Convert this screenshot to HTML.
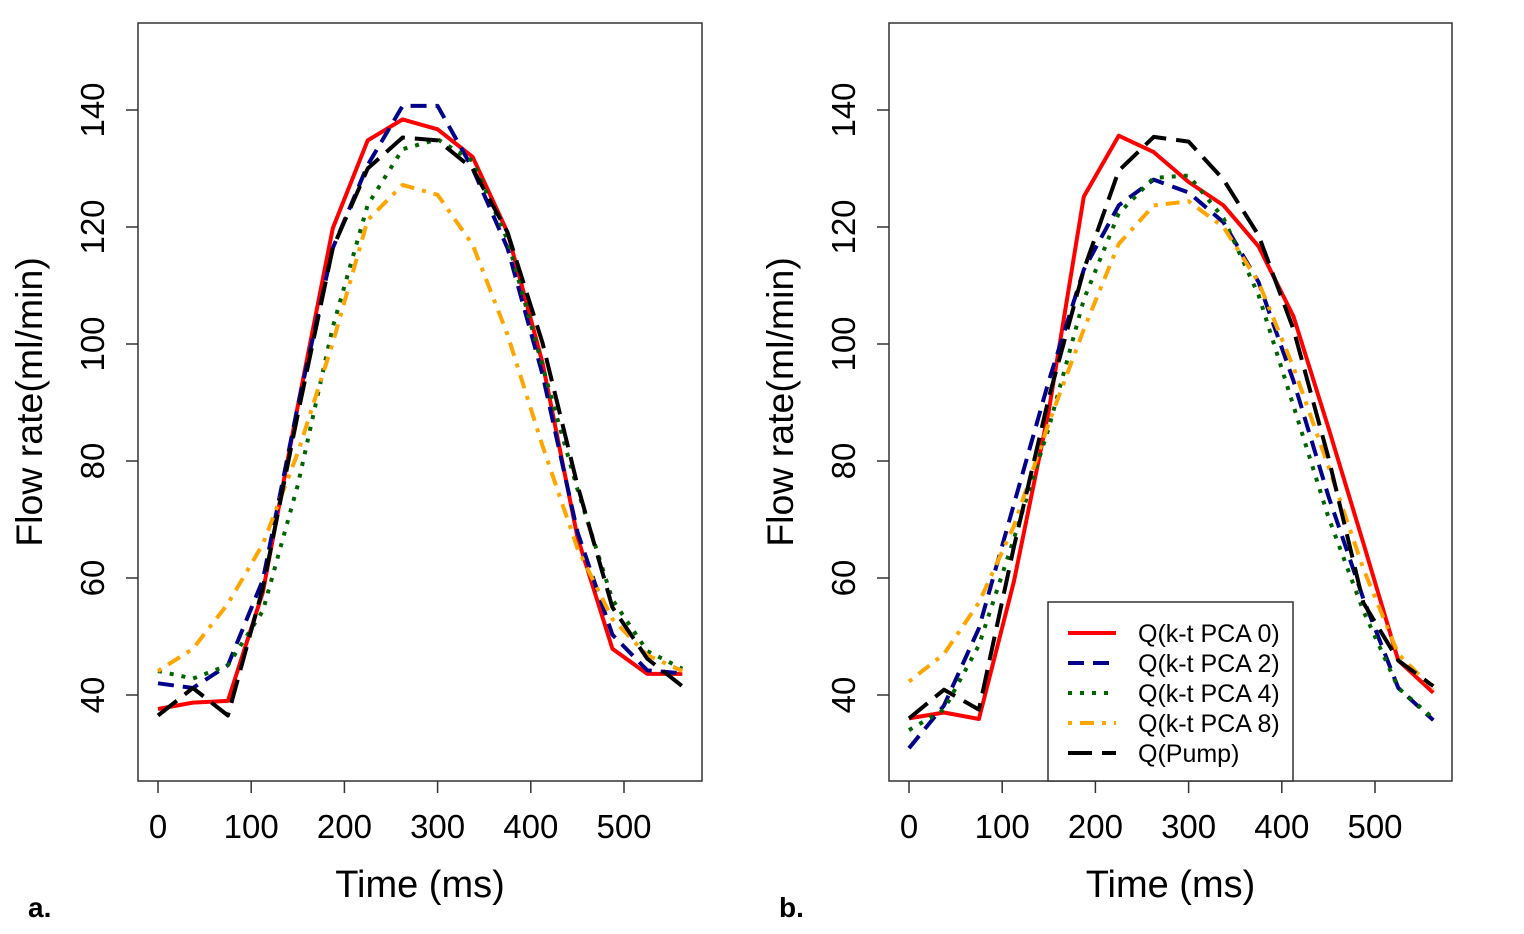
<!DOCTYPE html>
<html><head><meta charset="utf-8">
<style>
html,body{margin:0;padding:0;background:#fff;}
svg{display:block;font-family:"Liberation Sans",sans-serif;}
</style></head>
<body>
<svg id="chart" width="1524" height="934" viewBox="0 0 1524 934" xmlns="http://www.w3.org/2000/svg"></svg>
<script>
const times = [0,37.5,75,112.5,150,187.5,225,262.5,300,337.5,375,412.5,450,487.5,525,562.5];
const xTicks = [0,100,200,300,400,500];
const yTicks = [40,60,80,100,120,140];
const seriesNames = ["Q(k-t PCA 0)","Q(k-t PCA 2)","Q(k-t PCA 4)","Q(k-t PCA 8)","Q(Pump)"];
const aPca0 = [37.6,38.7,39,57.6,89.4,119.8,134.8,138.4,136.7,132,119.1,96.8,67,47.9,43.6,43.6];
const aPca2 = [42,41.2,45.1,59.7,89.4,116.4,130.6,140.7,140.7,130,116.4,94.8,67.9,50.3,44.2,43.7];
const aPca4 = [44.1,42.8,45.1,54.4,75.9,102.9,123.8,133.3,135,131.3,117.8,96.2,75.2,56.3,47.5,44.5];
const aPca8 = [44.1,47.9,55.6,65.8,81.4,100.2,121.2,127.2,125.5,117,101.6,82.6,65.1,53,46.8,44.1];
const aPump = [36.5,41.2,36.5,58.3,88,116.4,130,135.3,134.8,130,119.1,100.2,75.9,55,46.2,41.5];
const bPca0 = [36,37,35.9,59.4,88.6,125.2,135.6,132.8,127.7,123.7,116.7,104.7,85.7,66,45.9,40.4];
const bPca2 = [30.9,38.2,51.4,72.6,93.7,112.7,123.7,128.1,125.9,120.8,110.6,93.7,74,56.5,41.2,35.7];
const bPca4 = [34,37.5,48.5,66.7,85.7,107.6,122.3,128.4,128.8,121.5,108.4,89.4,70.4,54.4,41.2,36];
const bPca8 = [42.3,47,55.8,68.9,86.5,102.5,117.1,123.7,124.4,120,110.6,96,79.1,61.6,47,41];
const bPump = [36,40.9,37.5,65.3,90.8,112.7,129.6,135.4,134.6,128.1,118.6,102.5,80.6,55.8,45.9,41.5];

const NS="http://www.w3.org/2000/svg";
const svg=document.getElementById('chart');
function mk(tag,attrs,parent){const e=document.createElementNS(NS,tag);for(const k in attrs)e.setAttribute(k,attrs[k]);(parent||svg).appendChild(e);return e;}
const styles=[
 {c:"#ff0000",d:""},
 {c:"#00008b",d:"16 9"},
 {c:"#006400",d:"4 8"},
 {c:"#ffa500",d:"4 8 14 8"},
 {c:"#000000",d:"24 10"}];

function panel(id,left,right,x0px,data,legend){
  const top=23,bottom=781;
  const g=mk('g',{});
  
  
  const xs=v=>x0px+v*0.932;
  const ys=v=>695-(v-40)*5.85;
  const box=mk('rect',{x:left,y:top,width:right-left,height:bottom-top,fill:'none',stroke:'#333',"stroke-width":1.5},g);
  
  
  xTicks.forEach(t=>{
    const l=mk('line',{x1:xs(t),x2:xs(t),y1:bottom,y2:bottom+12,stroke:'#333',"stroke-width":1.5},g);
    
    
    const tx=mk('text',{x:xs(t),y:838,"font-size":33,"text-anchor":"middle",fill:'#000'},g);
    
    
    tx.textContent=t;
  });
  yTicks.forEach(t=>{
    const l=mk('line',{x1:left-12,x2:left,y1:ys(t),y2:ys(t),stroke:'#333',"stroke-width":1.5},g);
    
    
    const tx=mk('text',{x:0,y:0,"font-size":33,"text-anchor":"middle",fill:'#000',transform:`translate(${left-34},${ys(t)}) rotate(-90)`},g);
    
    
    tx.textContent=t;
  });
  const xt=mk('text',{x:(left+right)/2,y:897,"font-size":38,"text-anchor":"middle",fill:'#000'},g);
  
  
  xt.textContent='Time (ms)';
  const yt=mk('text',{x:0,y:0,"font-size":37.5,"text-anchor":"middle",fill:'#000',transform:`translate(${left-96},402) rotate(-90)`},g);
  
  
  yt.textContent='Flow rate(ml/min)';
  data.forEach((arr,i)=>{
    const pts=arr.map((v,j)=>xs(times[j]).toFixed(1)+','+ys(v).toFixed(1)).join(' ');
    const p=mk('polyline',{points:pts,fill:'none',stroke:styles[i].c,"stroke-width":4,"stroke-dasharray":styles[i].d,"stroke-linejoin":"round"},g);
    
    
  });
  if(legend){
    const lg=mk('g',{},g);
    
    
    mk('rect',{x:1048,y:602,width:245,height:179,fill:'#fff',stroke:'#333',"stroke-width":1.5},lg);
    seriesNames.forEach((n,i)=>{
      const y=633+i*30;
      const e=mk('g',{},lg);
      
      
      mk('line',{x1:1068,x2:1116,y1:y,y2:y,stroke:styles[i].c,"stroke-width":4,"stroke-dasharray":styles[i].d},e);
      const t=mk('text',{x:1138,y:y+9,"font-size":25,fill:'#000'},e);
      t.textContent=n;
    });
  }
}
panel('panel-a',138,702,158,[aPca0,aPca2,aPca4,aPca8,aPump],false);
panel('panel-b',889,1452,909,[bPca0,bPca2,bPca4,bPca8,bPump],true);
const la=mk('text',{x:28,y:917,"font-size":28,"font-weight":"bold",fill:'#000'});


la.textContent='a.';
const lb=mk('text',{x:779,y:917,"font-size":28,"font-weight":"bold",fill:'#000'});


lb.textContent='b.';
</script>
</body></html>
